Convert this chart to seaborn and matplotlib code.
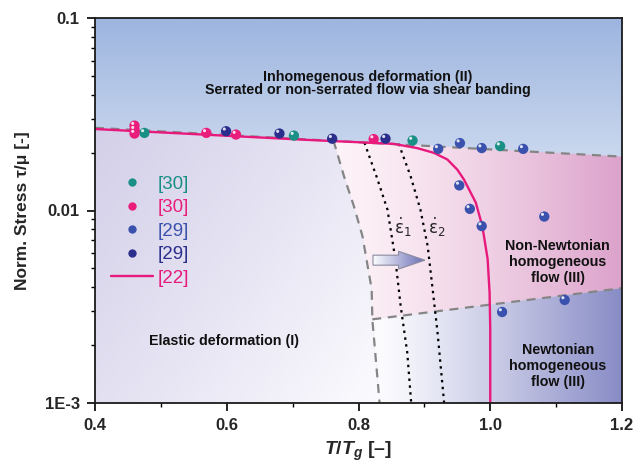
import numpy as np
import pandas as pd
import matplotlib
matplotlib.use("Agg")
import matplotlib.pyplot as plt
import matplotlib.transforms as mtransforms
from matplotlib.patches import Polygon, FancyArrow
from matplotlib.lines import Line2D
import seaborn as sns

# ---------------- data ----------------
teal30_x = [0.475, 0.702, 0.882, 1.015]
teal30_y = [0.0253, 0.0245, 0.0231, 0.0216]
pink30_x = [0.460, 0.460, 0.460, 0.569, 0.614, 0.823]
pink30_y = [0.0276, 0.0263, 0.0251, 0.0253, 0.0248, 0.0235]
blue29_x = [0.921, 0.954, 0.987, 1.050, 0.953, 0.969, 0.987, 1.082, 1.018, 1.113]
blue29_y = [0.0209, 0.0224, 0.0211, 0.0209, 0.0135, 0.0102, 0.0083, 0.0093, 0.00297, 0.00343]
navy29_x = [0.599, 0.680, 0.760, 0.841]
navy29_y = [0.0258, 0.0251, 0.0236, 0.0236]

fit22_x = [0.400, 0.719, 0.803, 0.853, 0.889, 0.915, 0.935, 0.950, 0.960, 0.978,
           0.988, 0.996, 0.999, 1.000, 1.000]
fit22_y = [0.0265, 0.0233, 0.0226, 0.0222, 0.0211, 0.0199, 0.0184, 0.0163, 0.0145,
           0.0110, 0.0083, 0.0056, 0.00375, 0.00242, 0.001]

upper_x = [0.4, 1.2]
upper_y = [0.0269, 0.01905]
elastic_x = [0.762, 0.778, 0.793, 0.806, 0.813, 0.820, 0.821, 0.828, 0.832]
elastic_y = [0.0231, 0.01505, 0.01053, 0.00736, 0.00536, 0.0039, 0.00272, 0.00144, 0.001]
newton_x = [0.821, 1.2]
newton_y = [0.00272, 0.00395]

eps1_x = [0.809, 0.828, 0.844, 0.856, 0.864, 0.874, 0.880]
eps1_y = [0.0225, 0.0148, 0.0101, 0.00557, 0.00319, 0.00183, 0.001]
eps2_x = [0.861, 0.879, 0.894, 0.905, 0.912, 0.920, 0.930]
eps2_y = [0.0222, 0.0151, 0.0101, 0.00653, 0.00405, 0.00232, 0.001]

x_ticks = [0.4, 0.6, 0.8, 1.0, 1.2]
x_ticklabels = ["0.4", "0.6", "0.8", "1.0", "1.2"]
y_ticks = [0.001, 0.01, 0.1]
y_ticklabels = ["1E-3", "0.01", "0.1"]

legend_labels = ["[30]", "[30]", "[29]", "[29]", "[22]"]
c_teal, c_pink, c_blue, c_navy, c_fit = "#1a8f86", "#ea1d7c", "#3a52ad", "#2b2e8c", "#e8197d"

# ---------------- style ----------------
sns.set_style("ticks")
plt.rcParams["font.family"] = ["Liberation Sans", "DejaVu Sans"]
plt.rcParams["mathtext.fontset"] = "custom"
plt.rcParams["mathtext.it"] = "Liberation Sans:italic:bold"
plt.rcParams["mathtext.rm"] = "Liberation Sans:bold"
plt.rcParams["mathtext.bf"] = "Liberation Sans:bold"

fig = plt.figure(figsize=(6.36, 4.68), dpi=100)
ax = fig.add_axes([95 / 636, 1 - 403 / 468, 527 / 636, 385 / 468])
ax.set_yscale("log")
ax.set_xlim(0.4, 1.2)
ax.set_ylim(0.001, 0.1)

# ---------------- background gradients ----------------
ny, nx = 300, 400
U = np.linspace(0, 1, nx)[None, :] * np.ones((ny, 1))
V = np.linspace(0, 1, ny)[:, None] * np.ones((1, nx))


def ramp(t, p=1.0):
    return np.clip(t, 0, 1) ** p


def lerp(c0, c1, t):
    t = np.clip(t, 0, 1)[..., None]
    return (np.array(c0) / 255.0) * (1 - t) + (np.array(c1) / 255.0) * t


def bg_image(img, clip=None):
    im = ax.imshow(img, extent=[0, 1, 0, 1], origin="lower", transform=ax.transAxes,
                   aspect="auto", interpolation="bilinear", zorder=0)
    if clip is not None:
        im.set_clip_path(clip)
    return im


# blue top region (whole axes)
bg_image(lerp((201, 215, 238), (157, 181, 223), ramp((V - 0.65) / 0.35)))

# elastic region
el_poly = [(0.4, 0.001), (0.4, upper_y[0])] + list(zip(elastic_x, elastic_y))
p_el = Polygon(el_poly, closed=True, transform=ax.transData)
s = 0.6 * (U / 0.55) + 0.4 * (0.71 - V) / 0.71
bg_image(lerp((212, 208, 233), (252, 252, 255), ramp(s, 1.1)), p_el)

# non-Newtonian (pink) region
k = elastic_y.index(newton_y[0])
pk_poly = ([(elastic_x[0], elastic_y[0]), (upper_x[1], upper_y[1]), (newton_x[1], newton_y[1]),
            (newton_x[0], newton_y[0])] + list(zip(elastic_x[k - 1:0:-1], elastic_y[k - 1:0:-1])))
p_pk = Polygon(pk_poly, closed=True, transform=ax.transData)
bg_image(lerp((253, 242, 247), (220, 162, 203), ramp((U - 0.47) / 0.53, 1.3)), p_pk)

# Newtonian region
nw_poly = ([(newton_x[0], newton_y[0]), (newton_x[1], newton_y[1]), (1.2, 0.001)]
           + list(zip(elastic_x[::-1][:len(elastic_x) - k], elastic_y[::-1][:len(elastic_y) - k])))
p_nw = Polygon(nw_poly, closed=True, transform=ax.transData)
bg_image(lerp((251, 251, 254), (136, 140, 198), ramp((U - 0.55) / 0.45, 1.1)), p_nw)

# ---------------- boundary lines ----------------
gray = "#858585"
dash = (0, (4, 3))
for bx, by in [(upper_x, upper_y), (elastic_x, elastic_y), (newton_x, newton_y)]:
    sns.lineplot(x=bx, y=by, sort=False, estimator=None, color=gray, lw=1.6,
                 linestyle=dash, ax=ax, zorder=2)
for ex, ey in [(eps1_x, eps1_y), (eps2_x, eps2_y)]:
    sns.lineplot(x=ex, y=ey, sort=False, estimator=None, color="black", lw=1.6,
                 linestyle=(0, (1.1, 2.0)), ax=ax, zorder=2)

sns.lineplot(x=fit22_x, y=fit22_y, sort=False, estimator=None, color=c_fit, lw=1.7,
             ax=ax, zorder=3)

# ---------------- data points ----------------
pts = pd.concat([
    pd.DataFrame({"x": teal30_x, "y": teal30_y, "src": "teal30"}),
    pd.DataFrame({"x": pink30_x, "y": pink30_y, "src": "pink30"}),
    pd.DataFrame({"x": navy29_x, "y": navy29_y, "src": "navy29"}),
    pd.DataFrame({"x": blue29_x, "y": blue29_y, "src": "blue29"}),
], ignore_index=True)
palette = {"teal30": c_teal, "pink30": c_pink, "blue29": c_blue, "navy29": c_navy}
sns.scatterplot(data=pts, x="x", y="y", hue="src", palette=palette, s=55,
                edgecolor="none", linewidth=0, legend=False, ax=ax, zorder=5)
offs = mtransforms.ScaledTranslation(-1.3 / 72, 1.6 / 72, fig.dpi_scale_trans)
ax.scatter(pts["x"], pts["y"], s=5, color="white", alpha=0.85, edgecolor="none",
           transform=ax.transData + offs, zorder=6)

# ---------------- arrow ----------------
arr = FancyArrow(0.5275, 0.371, 0.0985, 0.0, width=0.026, head_width=0.046,
                 head_length=0.05, length_includes_head=True, transform=ax.transAxes,
                 facecolor="none", edgecolor="#8a8aa0", lw=0.8, zorder=7)
ax.add_patch(arr)
aim = ax.imshow(lerp((252, 252, 255), (105, 110, 182), U), extent=[0.5275, 0.626, 0.345, 0.397],
                origin="lower", transform=ax.transAxes, aspect="auto", zorder=6.5)
aim.set_clip_path(arr)

# ---------------- texts ----------------
tk = dict(transform=ax.transAxes, ha="center", va="center", fontweight="bold",
          fontsize=10.3, color="#111111", zorder=8)
ax.text(0.517, 0.847, "Inhomegenous deformation (II)", **tk)
ax.text(0.517, 0.813, "Serrated or non-serrated flow via shear banding", **tk)
ax.text(0.245, 0.161, "Elastic deformation (I)", **tk)
ax.text(0.878, 0.366, "Non-Newtonian\nhomogeneous\nflow (III)", linespacing=1.15, **tk)
ax.text(0.878, 0.096, "Newtonian\nhomogeneous\nflow (III)", linespacing=1.15, **tk)
ax.text(0.584, 0.455, r"$\dot{\mathrm{\varepsilon}}_1$", transform=ax.transAxes, ha="center",
        va="center", fontsize=12, math_fontfamily="dejavusans", zorder=8)
ax.text(0.649, 0.455, r"$\dot{\mathrm{\varepsilon}}_2$", transform=ax.transAxes, ha="center",
        va="center", fontsize=12, math_fontfamily="dejavusans", zorder=8)

# ---------------- legend ----------------
handles = [
    Line2D([], [], ls="none", marker="o", ms=6, mfc=c_teal, mec="none"),
    Line2D([], [], ls="none", marker="o", ms=6, mfc=c_pink, mec="none"),
    Line2D([], [], ls="none", marker="o", ms=6, mfc=c_blue, mec="none"),
    Line2D([], [], ls="none", marker="o", ms=6, mfc=c_navy, mec="none"),
    Line2D([], [], color=c_fit, lw=1.7),
]
leg = ax.legend(handles, legend_labels, loc="upper left", bbox_to_anchor=(0.030, 0.590),
                frameon=False, fontsize=13.5, handlelength=2.24, handletextpad=0.27,
                labelspacing=0.34, borderpad=0, borderaxespad=0)
for t, c in zip(leg.get_texts(), [c_teal, c_pink, c_blue, c_navy, c_fit]):
    t.set_color(c)
leg.set_zorder(9)

# ---------------- axes ----------------
ax.set_xticks(x_ticks)
ax.set_xticklabels(x_ticklabels, fontweight="bold", fontsize=12)
ax.set_xticks([0.5, 0.7, 0.9, 1.1], minor=True)
ax.set_yticks(y_ticks)
ax.set_yticklabels(y_ticklabels, fontweight="bold", fontsize=12)
ax.yaxis.set_minor_formatter(matplotlib.ticker.NullFormatter())
ax.tick_params(which="major", direction="out", length=6, width=1.2, color="black",
               pad=5, top=False, right=False)
ax.tick_params(which="minor", direction="out", length=3, width=1.0, color="black",
               top=False, right=False)
for sp in ax.spines.values():
    sp.set_visible(True)
    sp.set_linewidth(1.3)
    sp.set_color("#1a1a1a")
    sp.set_zorder(10)

ax.set_ylabel("Norm. Stress τ/μ [-]", fontweight="bold", fontsize=12.5, va="center")
ax.yaxis.set_label_coords(-0.1385, 0.5)
ax.set_xlabel(r"$T/T_g$ [–]", fontweight="bold", fontsize=14, va="center")
ax.xaxis.set_label_coords(0.5, -0.127)

fig.savefig("out.png", dpi=100)
